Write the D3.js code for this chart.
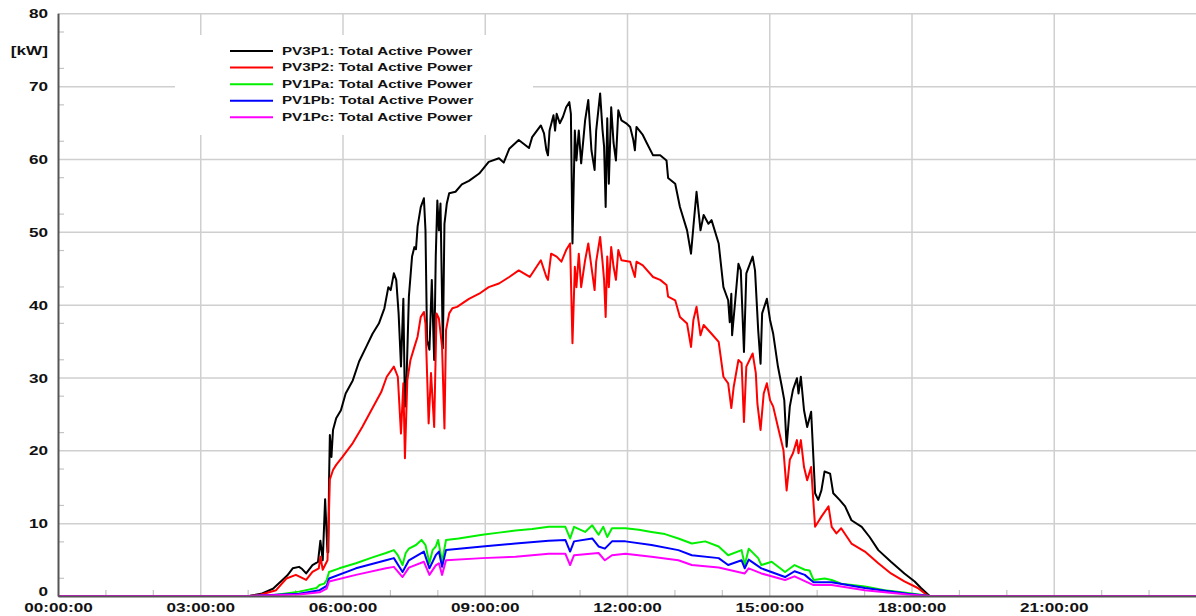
<!DOCTYPE html>
<html>
<head>
<meta charset="utf-8">
<script src="https://cdn.jsdelivr.net/npm/d3@7"></script>
<style>
  html, body { margin: 0; padding: 0; background: #fff; }
  svg { display: block; }
  text { font-family: "Liberation Sans", Arial, sans-serif; font-weight: bold; fill: #111; }
</style>
</head>
<body>
<svg id="chart" width="1196" height="616"></svg>
<script>
// ---------- data (time in minutes after midnight, power in kW) ----------
const seriesNames = [
  "PV3P1: Total Active Power",
  "PV3P2: Total Active Power",
  "PV1Pa: Total Active Power",
  "PV1Pb: Total Active Power",
  "PV1Pc: Total Active Power"
];
const seriesColors = ["#000000", "#ff0000", "#00f000", "#0000ff", "#ff00ff"];

const timesPV3P1 = [0,242,257,272,284,290,297,305,309,314,322,329,332,335,338,341,342,343,344,346,348,352,358,364,373,381,390,398,406,413,418,421,425,428,431,434,437,439,441,444,448,451,453,455,459,463,465,467,470,473,476,478,480,482,484,487,489,492,495,503,511,520,533,545,558,564,571,583,
  596,600,611,615,618,620,622,627,629,631,635,639,643,647,649,651,654,656,659,662,667,671,675,679,681,686,689,691,693,695,697,700,703,706,709,713,719,724,728,730,732,740,745,753,762,770,772,
  781,787,796,801,804,808,813,817,823,827,836,842,848,850,852,853,857,861,864,868,871,879,882,886,889,891,897,901,905,911,916,919,922,926,930,935,937,940,944,948,953,956,958,962,966,970,977,981,989,996,1004,1017,1027,1038,1054,1071,1084,1092,1103,1440];
const valsPV3P1  = [0,0,0.3,1.0,2.2,2.8,3.8,4.0,3.7,3.1,4.25,4.7,7.6,4.9,13.3,6.0,6.0,15.9,22.1,19.1,22.8,24.4,25.5,27.8,29.6,32.2,34.2,36.0,37.4,39.5,42.4,42.0,44.3,43.4,38.8,31.5,40.8,26.0,29.6,41.1,46.6,47.9,47.6,50.7,53.4,54.6,50.2,35.1,33.8,43.4,32.4,46.6,54.3,50.2,53.9,34.0,51.1,53.9,55.3,55.5,56.5,57.0,58.0,59.6,60.1,59.5,61.4,62.6,
  61.5,63.0,64.6,63.5,61.2,60.5,63.9,66.0,63.9,66.2,64.9,65.8,67.1,67.8,66.2,48.4,63.9,59.8,63.9,59.4,65.3,68.1,61.2,58.5,63.9,69.0,64.0,61.7,53.4,65.6,56.6,67.1,62.2,59.8,66.7,65.3,64.9,64.4,62.6,61.2,64.4,63.3,62.2,60.5,60.5,59.8,57.4,
  56.6,53.4,50.2,47.0,50.7,55.5,50.2,52.3,51.1,51.6,48.4,42.4,40.6,37.6,41.5,35.8,40.6,45.6,44.7,33.5,44.3,46.6,44.7,36.5,31.9,38.8,40.8,37.9,36.0,31.5,28.7,26.9,20.5,26.0,28.3,29.9,27.8,30.1,25.5,23.2,25.3,18.7,14.1,13.2,14.5,17.1,16.8,14.1,13.2,12.3,10.4,9.5,8.1,6.3,4.7,3.1,2.0,1.1,0,0];

const timesPV3P2 = [0,242,257,276,289,301,314,322,330,332,335,341,343,344,348,352,360,373,385,398,409,416,425,430,434,437,439,442,446,451,455,459,463,465,469,472,476,479,482,486,489,491,495,499,505,520,533,545,558,571,583,
  597,611,618,620,624,631,637,643,648,651,654,656,659,662,667,671,675,679,681,686,689,691,693,695,697,700,703,706,709,713,724,730,732,740,753,762,770,772,
  781,787,796,801,804,808,813,817,827,836,842,848,852,855,861,865,868,871,879,883,885,889,893,897,901,905,911,918,922,926,930,935,937,940,944,948,953,956,958,962,966,975,979,985,991,1004,1021,1038,1054,1071,1088,1101,1440];
const valsPV3P2  = [0,0,0.2,0.8,2.4,2.9,2.2,3.3,3.8,5.4,3.6,4.9,12.0,16.0,17.3,18.0,19.1,21.0,23.2,25.8,28.0,30.1,31.5,30.1,22.3,29.2,18.9,29.6,32.4,34.2,35.6,38.3,39.0,37.4,23.7,30.6,23.2,38.8,38.1,34.2,23.0,36.5,38.8,39.5,39.7,40.8,41.5,42.4,42.9,43.8,44.7,
  43.8,46.1,43.8,43.4,47.0,46.6,45.9,47.5,48.4,34.7,45.2,42.4,47.0,42.4,46.1,48.4,45.2,42.0,45.9,49.3,45.9,43.4,38.3,46.6,42.4,47.9,45.2,43.4,47.5,46.1,45.9,43.8,45.9,45.4,43.8,43.4,42.7,41.1,
  40.6,38.3,37.4,34.2,37.9,39.7,35.8,37.2,36.0,34.9,30.1,29.2,25.8,28.7,32.4,32.0,23.9,31.5,33.3,30.6,26.4,22.8,27.8,29.2,26.9,26.0,23.2,20.0,14.5,18.7,19.6,21.4,19.6,21.4,17.7,15.9,17.7,12.7,9.5,10.2,10.9,12.3,9.5,8.6,9.3,7.2,6.1,4.5,3.1,2.0,1.1,0,0];

const timesPV1Pa = [0,242,272,305,327,331,337,340,343,356,377,398,415,425,430,436,440,444,453,460,465,470,474,478,481,486,491,507,537,558,579,600,621,642,648,653,667,676,684,690,695,701,718,735,751,768,785,802,819,836,848,865,869,874,886,890,903,920,932,945,951,956,970,979,991,1021,1046,1075,1103,1440];
const valsPV1Pa  = [0,0,0.1,0.6,1.1,1.5,1.7,2.2,3.3,3.8,4.5,5.3,5.9,6.3,5.6,4.25,5.9,6.5,7.0,7.7,7.0,4.5,6.3,6.8,7.7,4.7,7.7,7.9,8.4,8.7,9.0,9.2,9.5,9.5,7.9,9.5,8.8,9.7,8.4,9.5,8.1,9.3,9.3,9.1,8.8,8.5,7.9,7.2,7.5,6.8,5.6,6.3,4.25,6.5,5.2,4.25,4.7,3.3,4.25,3.6,3.5,2.2,2.4,2.2,1.7,1.3,0.8,0.4,0,0];

const timesPV1Pb = [0,242,305,331,340,343,377,415,425,436,444,463,470,478,482,486,491,537,579,621,642,648,653,676,684,692,701,718,751,785,802,836,848,865,869,874,890,920,932,945,956,979,1021,1075,1103,1440];
const valsPV1Pb  = [0,0,0.3,0.8,1.4,2.4,3.8,4.9,5.2,3.3,4.9,6.1,3.8,5.6,6.1,4.0,6.3,6.8,7.2,7.6,7.7,6.1,7.5,7.9,6.8,6.5,7.5,7.5,7.0,6.3,5.6,5.2,4.25,4.9,3.8,5.0,3.8,2.6,3.4,2.9,1.9,1.9,1.1,0.3,0,0];

const timesPV1Pc = [0,242,305,331,340,343,377,415,425,436,444,463,470,478,482,486,491,537,579,621,642,648,653,684,692,701,718,751,785,802,836,869,874,890,920,932,956,979,1021,1075,1103,1440];
const valsPV1Pc  = [0,0,0.2,0.5,1.0,2.0,2.9,3.8,4.0,2.6,3.9,4.7,2.9,4.2,4.5,2.9,4.9,5.2,5.4,5.8,5.8,4.25,5.6,5.9,4.9,5.6,5.8,5.4,4.9,4.25,3.9,3.1,3.8,3.1,2.2,2.7,1.5,1.5,0.8,0.2,0,0];

const seriesTimes  = [timesPV3P1, timesPV3P2, timesPV1Pa, timesPV1Pb, timesPV1Pc];
const seriesValues = [valsPV3P1, valsPV3P2, valsPV1Pa, valsPV1Pb, valsPV1Pc];

const xTickMinutes = [0, 180, 360, 540, 720, 900, 1080, 1260];
const xTickLabels  = ["00:00:00","03:00:00","06:00:00","09:00:00","12:00:00","15:00:00","18:00:00","21:00:00"];
const yTickValues  = [0, 10, 20, 30, 40, 50, 60, 70, 80];
const yUnitLabel   = "[kW]";
const yUnitValue   = 75;

(function draw() {
  const plotLeft = 58, plotRight = 1196, plotTop = 13.3, plotBottom = 596;
  const svg = d3.select("#chart");

  const x = d3.scaleLinear().domain([0, 1440]).range([plotLeft, plotRight]);
  const y = d3.scaleLinear().domain([0, 80]).range([plotBottom, plotTop]);

  const SX = 1.32; // horizontal stretch of the lettering

  // horizontal grid
  svg.append("g")
    .attr("transform", `translate(${plotLeft},0)`)
    .call(d3.axisLeft(y).tickValues(yTickValues.filter(v => v > 0)).tickSize(-(plotRight - plotLeft)).tickFormat(""))
    .call(g => g.select(".domain").remove())
    .call(g => g.selectAll("line").attr("stroke", "#cfcfcf").attr("stroke-width", 1.5));

  // vertical grid
  svg.append("g")
    .attr("transform", `translate(0,${plotBottom})`)
    .call(d3.axisBottom(x).tickValues(xTickMinutes.filter(v => v > 0)).tickSize(-(plotBottom - plotTop)).tickFormat(""))
    .call(g => g.select(".domain").remove())
    .call(g => g.selectAll("line").attr("stroke", "#cfcfcf").attr("stroke-width", 1.5));

  // minor ticks (y every 2.5 kW, x every hour)
  svg.append("g")
    .attr("transform", `translate(${plotLeft},0)`)
    .call(d3.axisRight(y).tickValues(d3.range(2.5, 80, 5)).tickSize(6).tickFormat(""))
    .call(g => g.select(".domain").remove())
    .call(g => g.selectAll("line").attr("stroke", "#c4c4c4").attr("stroke-width", 1.2));
  svg.append("g")
    .attr("transform", `translate(0,${plotBottom})`)
    .call(d3.axisTop(x).tickValues(d3.range(60, 1440, 60).filter(m => m % 180 !== 0)).tickSize(6).tickFormat(""))
    .call(g => g.select(".domain").remove())
    .call(g => g.selectAll("line").attr("stroke", "#c4c4c4").attr("stroke-width", 1.2));

  // legend background (white box covering grid)
  const legend = svg.append("g");
  legend.append("rect")
    .attr("x", 175).attr("y", 35).attr("width", 358).attr("height", 100)
    .attr("fill", "#fff");

  // series lines
  const line = d3.line().x(d => x(d[0])).y(d => y(d[1]));
  seriesNames.forEach((name, i) => {
    const pts = seriesTimes[i].map((t, k) => [t, seriesValues[i][k]]);
    svg.append("path")
      .datum(pts)
      .attr("fill", "none")
      .attr("stroke", seriesColors[i])
      .attr("stroke-width", 2)
      .attr("stroke-linejoin", "round")
      .attr("d", line);
  });

  // axes
  const yAxis = svg.append("g")
    .attr("transform", `translate(${plotLeft},0)`)
    .call(d3.axisLeft(y)
      .tickValues(yTickValues.concat([yUnitValue]))
      .tickSize(0)
      .tickFormat(v => v === yUnitValue ? yUnitLabel : String(v)));
  yAxis.select(".domain").attr("stroke", "#555").attr("stroke-width", 2);
  yAxis.selectAll("text")
    .attr("x", -7.6)
    .attr("dy", v => v === 0 ? "-0.05em" : "0.35em")
    .attr("transform", `scale(${SX},1)`)
    .style("font-size", "13px")
    .attr("fill", "#111");

  const xAxis = svg.append("g")
    .attr("transform", `translate(0,${plotBottom})`)
    .call(d3.axisBottom(x)
      .tickValues(xTickMinutes)
      .tickSize(0)
      .tickFormat((v, i) => xTickLabels[i]));
  xAxis.select(".domain").attr("stroke", "#555").attr("stroke-width", 2);
  xAxis.selectAll(".tick text")
    .attr("y", 16).attr("dy", 0)
    .attr("transform", `scale(${SX},1)`)
    .style("font-size", "13px")
    .attr("fill", "#111");

  // legend entries
  const rowY = d3.scaleLinear().domain([0, 4]).range([51, 117.3]);
  seriesNames.forEach((name, i) => {
    const g = legend.append("g").attr("transform", `translate(0,${rowY(i)})`);
    g.append("line").attr("x1", 230).attr("x2", 273).attr("y1", 0).attr("y2", 0)
      .attr("stroke", seriesColors[i]).attr("stroke-width", 2);
    g.append("text")
      .attr("transform", `translate(282,3.6) scale(${SX},1)`)
      .style("font-size", "11.5px")
      .attr("fill", "#111")
      .text(name);
  });
})();
</script>
</body>
</html>
